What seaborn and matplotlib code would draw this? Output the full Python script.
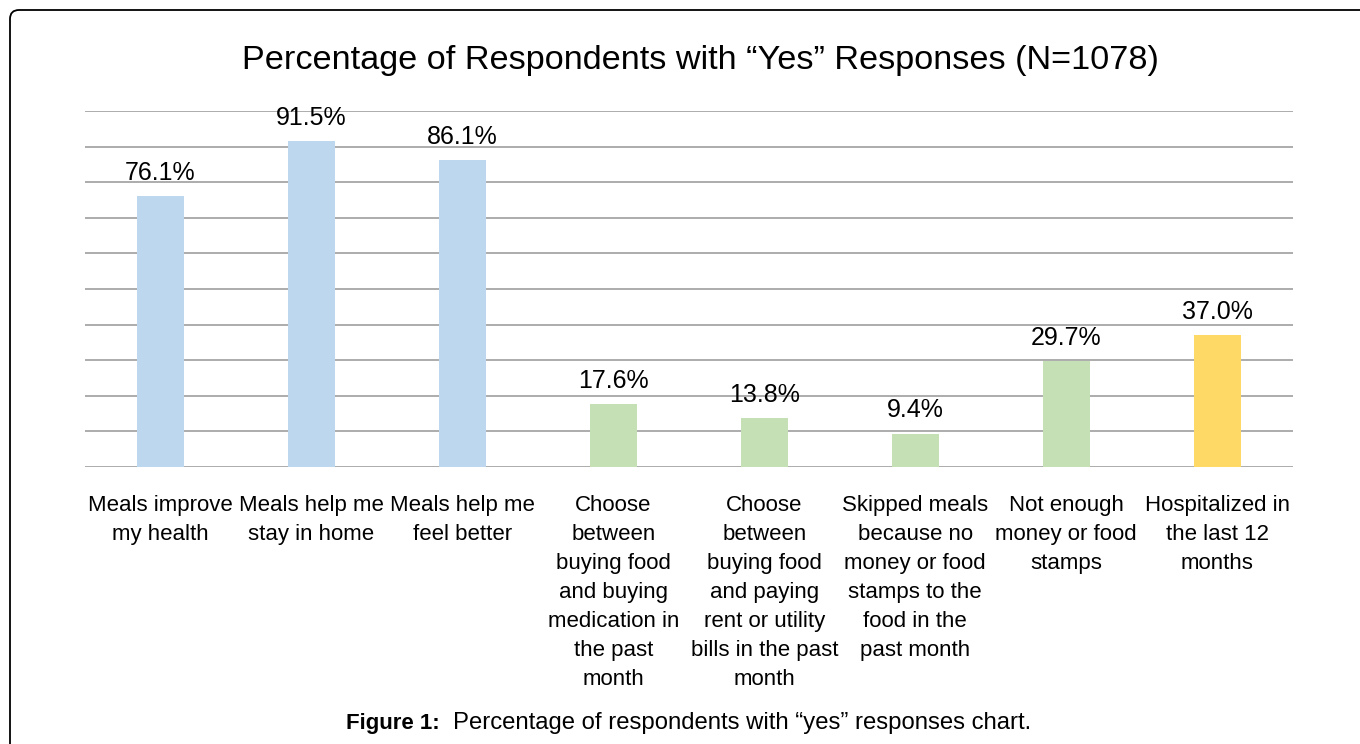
import matplotlib
matplotlib.use("Agg")
import matplotlib.pyplot as plt
import seaborn as sns
import pandas as pd
from matplotlib.path import Path
from matplotlib.patches import PathPatch

categories = ["Meals improve\nmy health",
              "Meals help me\nstay in home",
              "Meals help me\nfeel better",
              "Choose\nbetween\nbuying food\nand buying\nmedication in\nthe past\nmonth",
              "Choose\nbetween\nbuying food\nand paying\nrent or utility\nbills in the past\nmonth",
              "Skipped meals\nbecause no\nmoney or food\nstamps to the\nfood in the\npast month",
              "Not enough\nmoney or food\nstamps",
              "Hospitalized in\nthe last 12\nmonths"]
values = [76.1, 91.5, 86.1, 17.6, 13.8, 9.4, 29.7, 37.0]
bar_colors = ["#BDD7EE", "#BDD7EE", "#BDD7EE", "#C5E0B4", "#C5E0B4", "#C5E0B4", "#C5E0B4", "#FFD966"]

df = pd.DataFrame({"cat": categories, "val": values})

sns.set_style("white")
plt.rcParams['font.family'] = ['Liberation Sans', 'DejaVu Sans']
plt.rcParams['text.color'] = 'black'
plt.rcParams['xtick.color'] = 'black'

fig = plt.figure(figsize=(13.6, 7.44), dpi=100)
ax = fig.add_axes([0.0625, 0.3723, 0.888, 0.4785])

sns.barplot(data=df, x="cat", y="val", hue="cat", palette=bar_colors,
            legend=False, width=0.31, saturation=1, linewidth=0, ax=ax)

ax.set_ylim(0, 100)
ax.set_xlim(-0.5, len(categories) - 0.5)
ax.set_yticks(range(0, 101, 10))
ax.yaxis.grid(True, color="#a6a6a6", linewidth=1.3)
ax.set_axisbelow(True)
ax.tick_params(axis="y", left=False, labelleft=False)
ax.tick_params(axis="x", bottom=False, pad=17, labelsize=16, labelcolor="black")
for lbl in ax.get_xticklabels():
    lbl.set_linespacing(1.5)
    lbl.set_verticalalignment("top")
for s in ax.spines.values():
    s.set_visible(False)
ax.set_xlabel("")
ax.set_ylabel("")

for i, v in enumerate(values):
    ax.annotate(f"{v:.1f}%", (i, v), xytext=(0, 8), textcoords="offset points",
                ha="center", va="bottom", fontsize=18, color="black")

fig.text(0.5147, 0.919, "Percentage of Respondents with \u201cYes\u201d Responses (N=1078)",
         ha="center", va="center", fontsize=24.7, color="black")

cap_y = 0.028
fig.text(346 / 1360, cap_y, "Figure 1:", ha="left", va="center", fontsize=16,
         fontweight="bold", color="black")
fig.text(453 / 1360, cap_y, "Percentage of respondents with \u201cyes\u201d responses chart.",
         ha="left", va="center", fontsize=17.2, color="black")

# frame: left and top edges with a rounded corner, in pixel coordinates
x0, top, r = 10, 744 - 10, 9
verts = [(x0, -5), (x0, top - r), (x0, top), (x0 + r, top), (1370, top)]
codes = [Path.MOVETO, Path.LINETO, Path.CURVE3, Path.CURVE3, Path.LINETO]
frame = PathPatch(Path(verts, codes), transform=None, facecolor="none",
                  edgecolor="black", linewidth=1.3)
fig.patches.append(frame)

fig.savefig("out.png", dpi=100)
